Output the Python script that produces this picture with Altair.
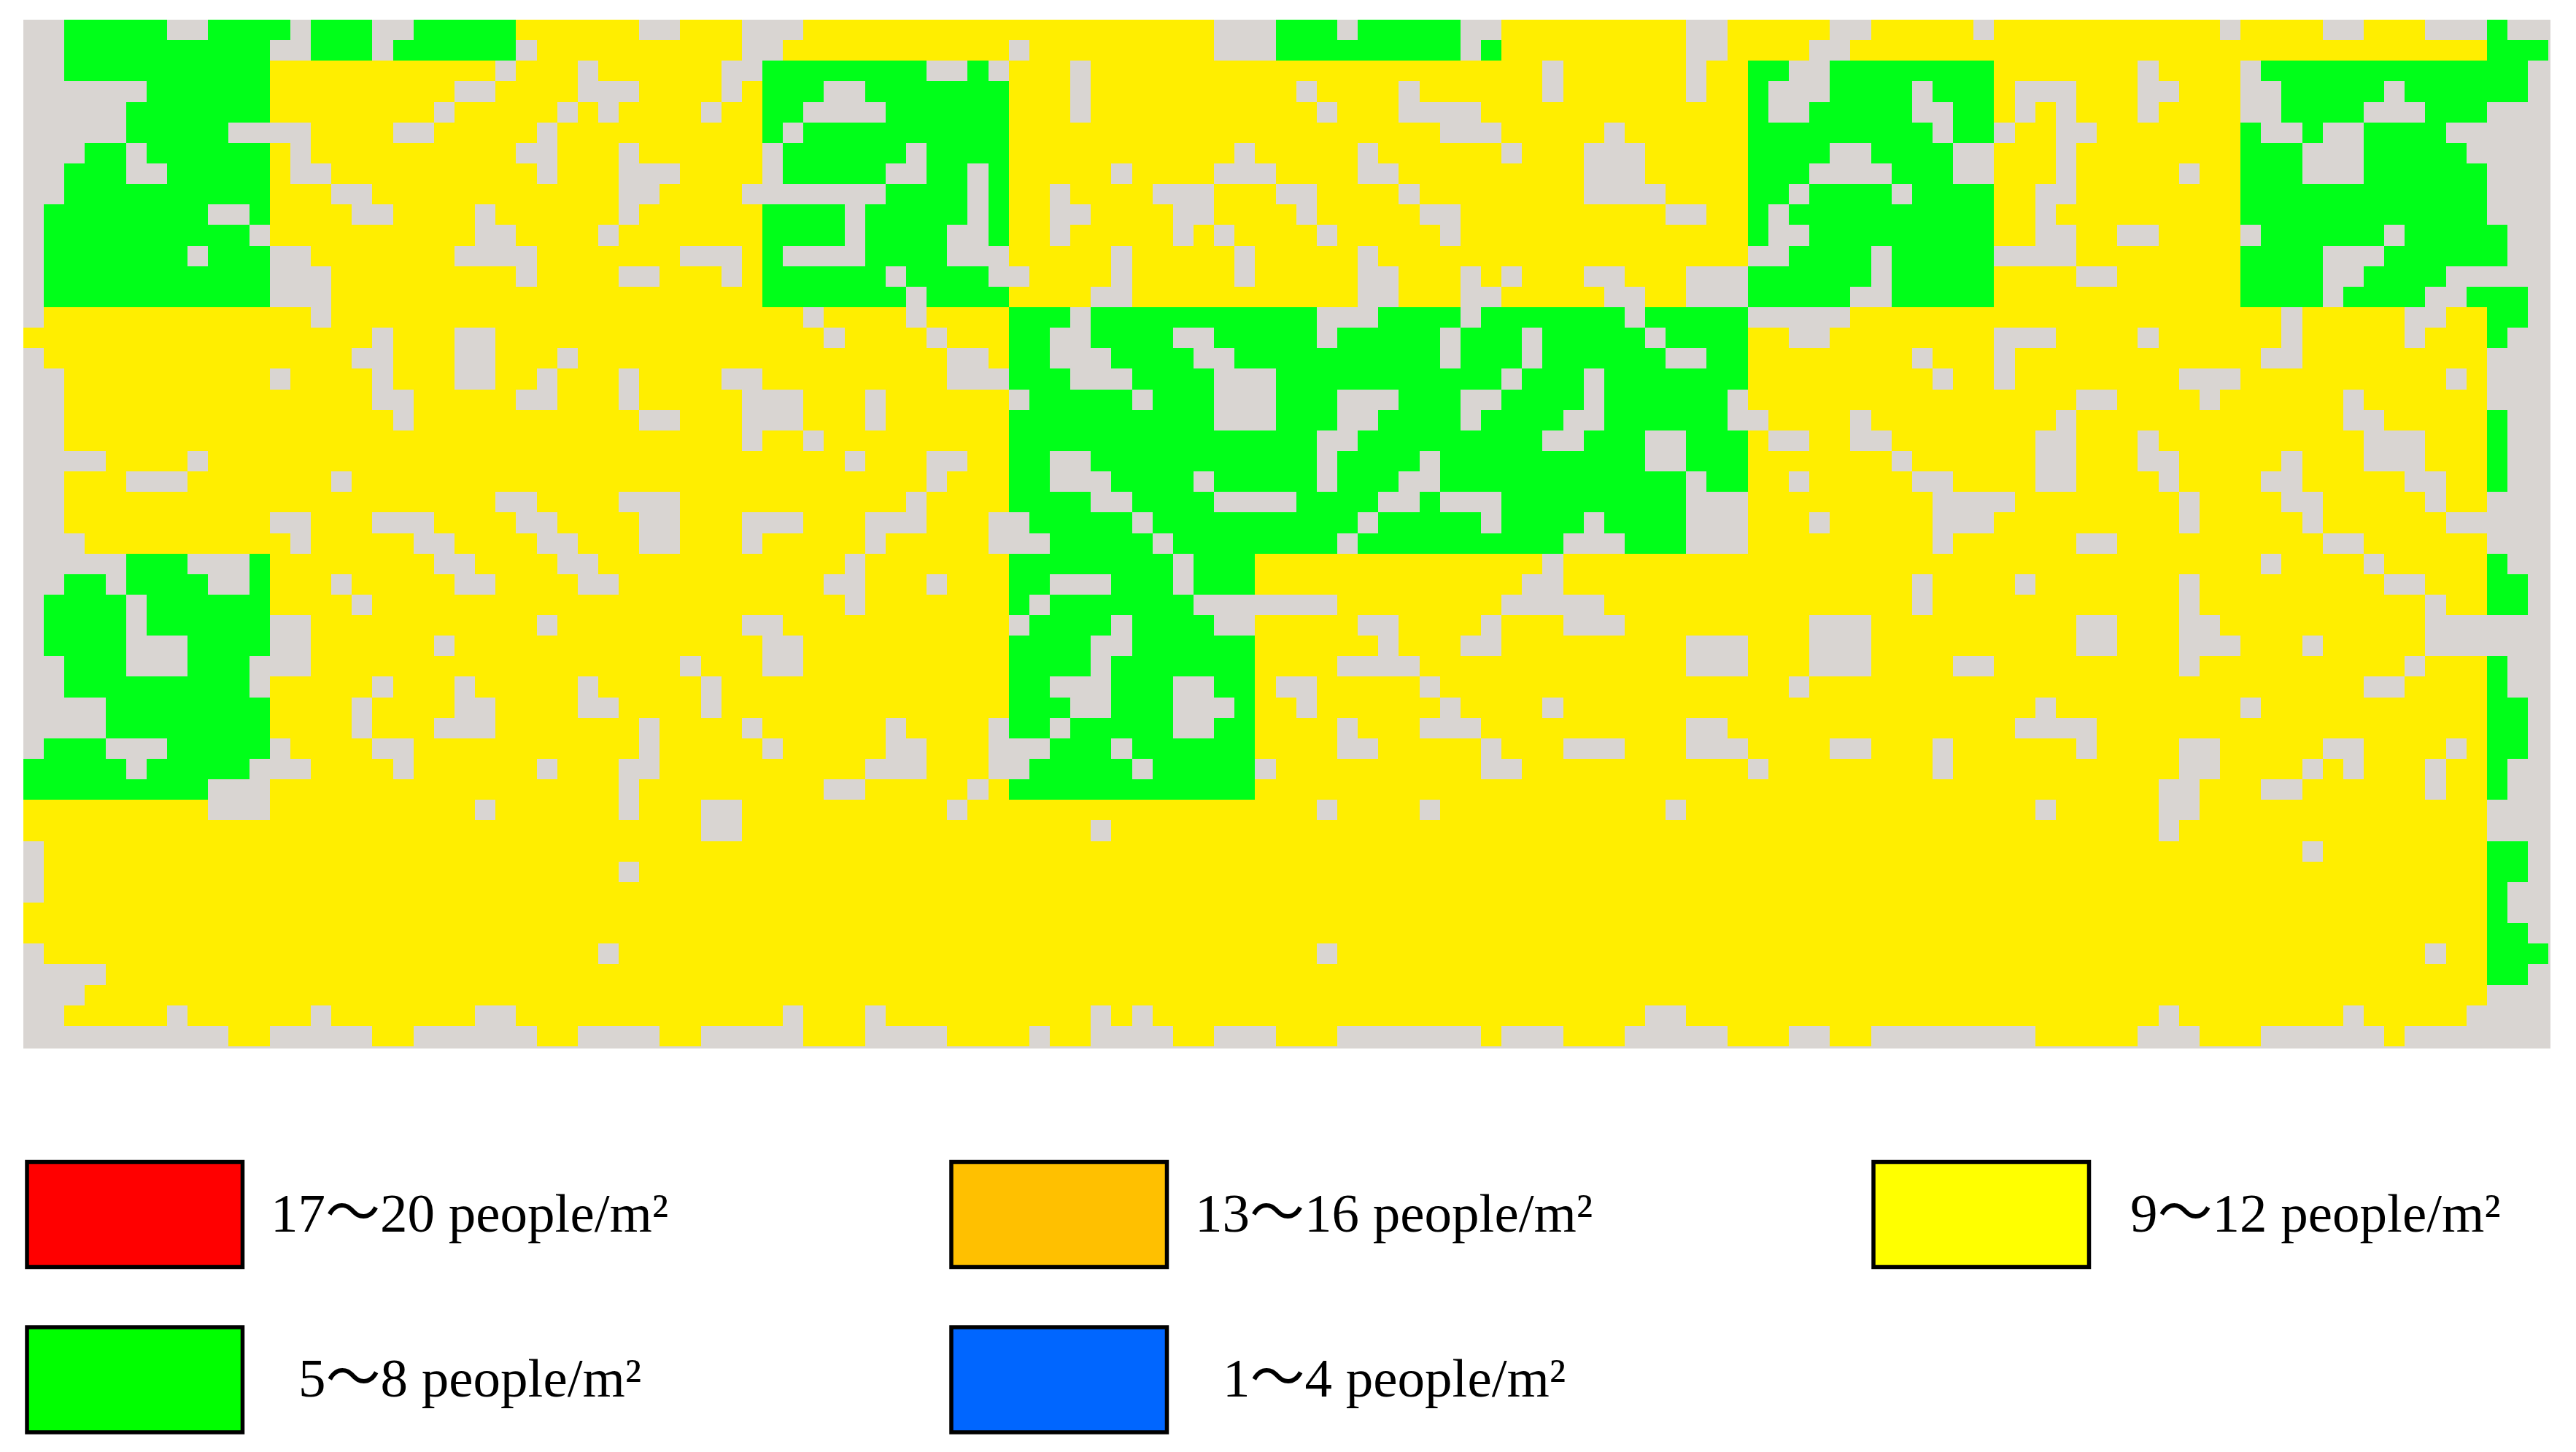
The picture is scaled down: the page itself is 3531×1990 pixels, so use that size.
import altair as alt
import pandas as pd

N_COLS = 123
N_ROWS = 50

# One entry per grid row: runs of [start, end) columns.
GRAY_RUNS = [
 [(0,2),(7,9),(13,14),(17,19),(30,32),(35,38),(58,61),(64,65),(70,72),(81,83),(88,90),(95,96),(107,108),(112,114),(117,120),(121,123)],
 [(0,2),(12,14),(17,18),(24,25),(35,37),(48,49),(58,61),(70,71),(81,83),(87,89)],
 [(0,2),(23,24),(27,28),(34,36),(44,46),(47,48),(51,52),(74,75),(81,82),(86,88),(103,104),(108,109),(122,123)],
 [(0,6),(21,23),(27,30),(34,35),(39,41),(51,52),(62,63),(67,68),(74,75),(81,82),(85,88),(92,93),(97,100),(103,105),(108,110),(115,116),(122,123)],
 [(0,5),(20,21),(26,27),(28,29),(33,34),(38,42),(51,52),(63,64),(67,71),(85,87),(92,94),(97,98),(99,100),(103,104),(108,110),(114,117),(120,123)],
 [(0,5),(10,14),(18,20),(25,26),(37,38),(69,72),(77,78),(93,94),(96,97),(99,101),(109,111),(112,114),(118,123)],
 [(0,3),(5,6),(13,14),(24,26),(29,30),(36,37),(43,44),(59,60),(65,66),(72,73),(76,79),(88,90),(94,96),(99,100),(111,114),(119,123)],
 [(0,2),(5,7),(13,15),(25,26),(29,32),(36,37),(42,44),(46,47),(53,54),(58,61),(65,67),(76,79),(87,91),(94,96),(99,100),(105,106),(111,114),(120,123)],
 [(0,2),(15,17),(29,31),(35,42),(46,47),(50,51),(55,58),(61,63),(67,68),(76,80),(86,87),(91,92),(98,100),(120,123)],
 [(0,1),(9,11),(16,18),(22,23),(29,30),(40,41),(46,47),(50,52),(56,58),(62,63),(68,70),(80,82),(85,86),(98,99),(120,123)],
 [(0,1),(11,12),(22,24),(28,29),(40,41),(45,47),(50,51),(56,57),(58,59),(63,64),(69,70),(85,87),(98,100),(102,104),(108,109),(115,116),(121,123)],
 [(0,1),(8,9),(12,14),(21,25),(32,35),(37,41),(45,48),(53,54),(59,60),(65,66),(84,86),(90,91),(96,100),(112,115),(121,123)],
 [(0,1),(12,15),(24,25),(29,31),(34,35),(42,43),(47,49),(53,54),(59,60),(65,67),(70,71),(72,73),(76,78),(81,84),(90,91),(100,102),(112,114),(118,123)],
 [(0,1),(12,15),(43,44),(52,54),(65,67),(70,72),(77,79),(81,84),(89,91),(112,113),(117,119),(122,123)],
 [(0,1),(14,15),(38,39),(43,44),(51,52),(63,66),(70,71),(78,79),(84,89),(110,111),(116,118),(122,123)],
 [(17,18),(21,23),(39,40),(44,45),(50,52),(56,58),(63,64),(69,70),(73,74),(79,80),(86,88),(96,99),(103,104),(110,111),(116,117),(121,123)],
 [(0,1),(16,18),(21,23),(26,27),(45,47),(50,53),(57,59),(69,70),(73,74),(80,82),(92,93),(96,97),(109,111),(120,123)],
 [(0,2),(12,13),(17,18),(21,23),(25,26),(29,30),(34,36),(45,48),(51,54),(58,61),(72,73),(76,77),(93,94),(96,97),(105,108),(118,119),(120,123)],
 [(0,2),(17,19),(24,26),(29,30),(35,38),(41,42),(48,49),(54,55),(58,61),(64,67),(70,72),(76,77),(83,84),(100,102),(106,107),(113,114),(120,123)],
 [(0,2),(18,19),(30,32),(35,38),(41,42),(58,61),(64,66),(70,71),(75,77),(83,85),(89,90),(99,100),(113,115),(121,123)],
 [(0,2),(35,36),(38,39),(63,65),(74,76),(79,81),(85,87),(89,91),(98,100),(103,104),(114,117),(121,123)],
 [(0,4),(8,9),(40,41),(44,46),(50,52),(63,64),(68,69),(79,81),(91,92),(98,100),(103,105),(110,111),(114,117),(121,123)],
 [(0,2),(5,8),(15,16),(44,45),(50,53),(57,58),(63,64),(67,69),(81,82),(86,87),(92,94),(98,100),(104,105),(109,111),(116,118),(121,123)],
 [(0,2),(23,25),(29,32),(43,44),(52,54),(58,62),(66,68),(69,72),(81,84),(93,97),(105,106),(110,112),(117,118),(120,123)],
 [(0,2),(12,14),(17,20),(24,26),(30,32),(35,38),(41,44),(47,49),(54,55),(65,66),(71,72),(76,77),(81,84),(87,88),(93,96),(105,106),(111,112),(118,123)],
 [(0,3),(13,14),(19,21),(25,27),(30,32),(35,36),(41,42),(47,50),(55,56),(64,65),(75,78),(81,84),(93,94),(100,102),(112,114),(120,123)],
 [(0,5),(8,11),(20,22),(26,28),(40,41),(56,57),(74,75),(109,110),(114,115),(121,123)],
 [(0,2),(4,5),(9,11),(15,16),(21,23),(27,29),(39,41),(44,45),(50,53),(56,57),(73,75),(92,93),(97,98),(105,106),(115,117),(122,123)],
 [(0,1),(5,6),(16,17),(40,41),(49,50),(57,64),(72,77),(92,93),(105,106),(117,118),(122,123)],
 [(0,1),(5,6),(12,14),(25,26),(35,37),(48,49),(53,54),(58,60),(65,67),(71,72),(75,78),(87,90),(100,102),(105,107),(117,123)],
 [(0,1),(5,8),(12,14),(20,21),(36,38),(52,54),(66,67),(70,72),(81,84),(87,90),(100,102),(105,108),(111,112),(117,123)],
 [(0,2),(5,8),(11,14),(32,33),(36,38),(52,53),(64,68),(81,84),(87,90),(94,96),(105,106),(116,117),(121,123)],
 [(0,2),(11,12),(17,18),(21,22),(27,28),(33,34),(50,53),(56,58),(61,63),(68,69),(86,87),(114,116),(121,123)],
 [(0,4),(16,17),(21,23),(27,29),(33,34),(51,53),(56,59),(62,63),(69,70),(74,75),(98,99),(108,109),(122,123)],
 [(0,4),(16,17),(20,23),(30,31),(35,36),(42,43),(47,48),(50,51),(56,58),(64,65),(68,71),(81,83),(97,101),(122,123)],
 [(0,1),(4,7),(12,13),(17,19),(30,31),(36,37),(42,44),(47,50),(53,54),(64,66),(71,72),(75,78),(81,84),(88,90),(93,94),(100,101),(105,107),(112,114),(118,119),(122,123)],
 [(5,6),(11,14),(18,19),(25,26),(29,31),(41,44),(47,49),(54,55),(60,61),(71,73),(84,85),(93,94),(105,107),(111,112),(113,114),(117,118),(121,123)],
 [(9,12),(29,30),(39,41),(46,47),(104,106),(109,111),(117,118),(121,123)],
 [(9,12),(22,23),(29,30),(33,35),(45,46),(63,64),(68,69),(80,81),(98,99),(104,106),(120,123)],
 [(33,35),(52,53),(104,105),(120,123)],
 [(0,1),(111,112),(122,123)],
 [(0,1),(29,30),(122,123)],
 [(0,1),(121,123)],
 [(121,123)],
 [(122,123)],
 [(0,1),(28,29),(63,64),(117,118)],
 [(0,4),(122,123)],
 [(0,3),(120,123)],
 [(0,2),(7,8),(14,15),(22,24),(37,38),(41,42),(52,53),(54,55),(79,81),(104,105),(113,114),(119,123)],
 [(0,10),(12,17),(19,25),(27,31),(33,38),(41,45),(49,50),(52,56),(58,61),(64,71),(72,75),(78,83),(86,88),(90,98),(103,106),(109,115),(116,123)],
]

GREEN_RUNS = [
 [(2,7),(9,13),(14,17),(19,24),(61,64),(65,70),(120,121)],
 [(2,12),(14,17),(18,24),(61,70),(71,72),(120,123)],
 [(2,12),(36,44),(46,47),(84,86),(88,96),(109,122)],
 [(6,12),(36,39),(41,48),(84,85),(88,92),(93,96),(110,115),(116,122)],
 [(5,12),(36,38),(42,48),(84,85),(87,92),(94,96),(110,114),(117,120)],
 [(5,10),(36,37),(38,48),(84,93),(94,96),(108,109),(111,112),(114,118)],
 [(3,5),(6,12),(37,43),(44,48),(84,88),(90,94),(108,111),(114,119)],
 [(2,5),(7,12),(37,42),(44,46),(47,48),(84,87),(91,94),(108,111),(114,120)],
 [(2,12),(42,46),(47,48),(84,86),(87,91),(92,96),(108,120)],
 [(1,9),(11,12),(36,40),(41,46),(47,48),(84,85),(86,96),(108,120)],
 [(1,11),(36,40),(41,45),(47,48),(84,85),(87,96),(109,115),(116,121)],
 [(1,8),(9,12),(36,37),(41,45),(86,90),(91,96),(108,112),(115,121)],
 [(1,12),(36,42),(43,47),(84,90),(91,96),(108,112),(114,118)],
 [(1,12),(36,43),(44,48),(84,89),(91,96),(108,112),(113,117),(119,122)],
 [(48,51),(52,63),(66,70),(71,78),(79,84),(120,122)],
 [(48,50),(52,56),(58,63),(64,69),(70,73),(74,79),(80,84),(120,121)],
 [(48,50),(53,57),(59,69),(70,73),(74,80),(82,84)],
 [(48,51),(54,58),(61,72),(73,76),(77,84)],
 [(49,54),(55,58),(61,64),(67,70),(72,76),(77,83)],
 [(48,58),(61,64),(66,70),(71,75),(77,83),(120,121)],
 [(48,63),(65,74),(76,79),(81,84),(120,121)],
 [(48,50),(52,63),(64,68),(69,79),(81,84),(120,121)],
 [(48,50),(53,57),(58,63),(64,67),(69,81),(82,84),(120,121)],
 [(48,52),(54,58),(62,66),(68,69),(72,81)],
 [(49,54),(55,65),(66,71),(72,76),(77,81)],
 [(50,55),(56,64),(65,75),(78,81)],
 [(5,8),(11,12),(48,56),(57,60),(120,121)],
 [(2,4),(5,9),(11,12),(48,50),(53,56),(57,60),(120,122)],
 [(1,5),(6,12),(48,49),(50,57),(120,122)],
 [(1,5),(6,12),(49,53),(54,58)],
 [(1,5),(8,12),(48,52),(54,60)],
 [(2,5),(8,11),(48,52),(53,60),(120,121)],
 [(2,11),(48,50),(53,56),(58,60),(120,121)],
 [(4,12),(48,51),(53,56),(59,60),(120,122)],
 [(4,12),(48,50),(51,56),(58,60),(120,122)],
 [(1,4),(7,12),(50,53),(54,60),(120,122)],
 [(0,5),(6,11),(49,54),(55,60),(120,121)],
 [(0,9),(48,60),(120,121)],
 [],
 [],
 [(120,122)],
 [(120,122)],
 [(120,121)],
 [(120,121)],
 [(120,122)],
 [(120,123)],
 [(120,122)],
 [],
 [],
 [],
]

LEGEND_LABELS = ["17～20 people/m²", "13～16 people/m²", "9～12 people/m²",
                 "5～8 people/m²", "1～4 people/m²"]
LEGEND_COLORS = ["#FF0000", "#FFC000", "#FFFF00", "#00FF00", "#0066FF"]

GRAY = "#D9D5D2"
YELLOW = "#FFEE00"
GREEN = "#00FF19"
CATS = ["gray", "yellow", "green"]

segments = []
for r in range(N_ROWS):
    taken = sorted([(a, b, "gray") for a, b in GRAY_RUNS[r]] + [(a, b, "green") for a, b in GREEN_RUNS[r]])
    pos = 0
    for a, b, cat in taken:
        if a > pos:
            segments.append(dict(row=r, row2=r + 1, c0=pos, c1=a, kind="yellow"))
        segments.append(dict(row=r, row2=r + 1, c0=a, c1=b, kind=cat))
        pos = b
    if pos < N_COLS:
        segments.append(dict(row=r, row2=r + 1, c0=pos, c1=N_COLS, kind="yellow"))
df = pd.DataFrame(segments)

W, H = 3464, 1410
CELL = 28.14
xs = alt.Scale(domain=[0, W / CELL], range=[0, W], round=True, nice=False, zero=False)
ys = alt.Scale(domain=[0, H / CELL], range=[0, H], round=True, nice=False, zero=False)

grid = alt.Chart(df).mark_rect().encode(
    x=alt.X("c0:Q", scale=xs, axis=None),
    x2="c1:Q",
    y=alt.Y("row:Q", scale=ys, axis=None),
    y2="row2:Q",
    color=alt.Color("kind:N", legend=None,
                    scale=alt.Scale(domain=CATS, range=[GRAY, YELLOW, GREEN])),
)

# hand-drawn legend, in pixels relative to the plot's origin (page 32, 27)
SW_X = [5, 1272, 2536]
SW_W = 295.5
SW_Y = [1565.5, 1792]
SW_H = 144
LAB_X = [[339, 1606, 2888], [377, 1644]]
LAB_Y = [1661, 1887]
FONT = ["Liberation Serif", "Noto Sans CJK SC"]

layers = [grid]
for i, (lab, col) in enumerate(zip(LEGEND_LABELS, LEGEND_COLORS)):
    rw, cl = divmod(i, 3)
    src = alt.Chart(pd.DataFrame({"label": [lab]}))
    layers.append(src.mark_rect(fill=col, stroke="#000000", strokeWidth=5.5).encode(
        x=alt.value(SW_X[cl]), x2=alt.value(SW_X[cl] + SW_W),
        y=alt.value(SW_Y[rw]), y2=alt.value(SW_Y[rw] + SW_H)))
    layers.append(src.mark_text(align="left", baseline="alphabetic", color="#000000",
                                font=",".join(FONT), fontSize=75).encode(
        x=alt.value(LAB_X[rw][cl]), y=alt.value(LAB_Y[rw]), text="label:N"))

chart = alt.layer(*layers).resolve_scale(color="independent").properties(
    width=W, height=H,
    padding={"left": 24, "top": 19, "right": 0, "bottom": 0},
    background="#FFFFFF",
    view=alt.ViewConfig(fill=GRAY, stroke=None),
)
chart.save("out.html", embed_options={"renderer": "svg", "actions": False})
